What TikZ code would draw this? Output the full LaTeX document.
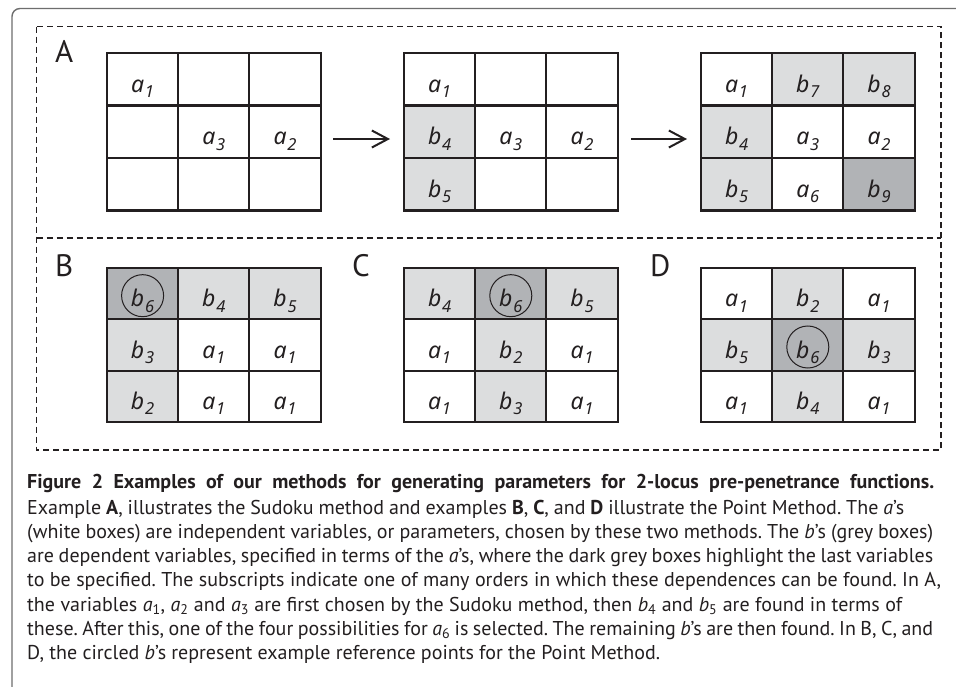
\documentclass[tikz,border=0pt]{standalone}
\usepackage{fontspec}
\setmainfont{PT Sans}
\newfontfamily\cellfont{Noto Sans}
\usetikzlibrary{arrows.meta}
\frenchspacing
\definecolor{lgrey}{HTML}{DCDDDE}
\definecolor{dgrey}{HTML}{B1B3B6}
\definecolor{ink}{HTML}{231F20}
\definecolor{framec}{HTML}{6E6E6E}
\newcommand\cv[2]{{\fontsize{23}{26}\cellfont\itshape #1}\kern0.8pt\raisebox{-5.5pt}{\fontsize{16.5}{16.5}\cellfont\itshape #2}}
\newcommand\sv[2]{\textit{#1}\textsubscript{#2}}
\tikzset{
 cellbox/.style={minimum width=71.2pt, inner sep=0pt, outer sep=0pt, text height=30pt, text depth=4pt, text=ink},
 gridline/.style={draw=ink, line width=2.1pt},
 dashbox/.style={draw=ink, line width=1.5pt, dash pattern=on 6pt off 4pt},
 panellabel/.style={anchor=base west, inner sep=0pt, font=\fontsize{31}{31}\selectfont, text=ink},
 capline/.style={anchor=base west, inner sep=0pt, font=\fontsize{20}{20}\selectfont, text=ink},
 arr/.style={draw=ink, line width=2pt, -{Straight Barb[length=16pt,width=17pt]}},
 ringc/.style={draw=ink, line width=1pt},
}
\newcommand\sgrid[5]{%
 \foreach \rr/\cc/\ff/\tx in {#5}{%
  \node[cellbox, minimum height=#4pt, fill=\ff] (#1-\rr-\cc) at ({#2+(\cc-0.5)*71.2},{#3+(\rr-0.5)*#4}) {\tx};
 }
 \draw[gridline] (#1-1-1.north west) rectangle (#1-3-3.south east);
 \draw[gridline] (#1-1-2.north west) -- (#1-3-2.south west);
 \draw[gridline] (#1-1-3.north west) -- (#1-3-3.south west);
 \draw[gridline] (#1-2-1.north west) -- (#1-2-3.north east);
 \draw[gridline] (#1-3-1.north west) -- (#1-3-3.north east);
}
\begin{document}
\begin{tikzpicture}[x=1pt,y=-1pt]
\clip (0,0) rectangle (956,686);
\fill[white] (0,0) rectangle (956,686);
% outer frame
\draw[framec, line width=1.4pt, rounded corners=8pt] (12,700) -- (12,8.5) -- (970,8.5);
% dashed panels
\draw[dashbox] (36.5,26.5) rectangle (941,450);
\draw[dashbox] (36.5,238) -- (941,238);
% labels
\node[panellabel] (labA) at (55,62) {A};
\node[panellabel] (labB) at (55,276) {B};
\node[panellabel] (labC) at (352,276) {C};
\node[panellabel] (labD) at (650,276) {D};
% grids A
\sgrid{gA}{107}{53}{52.5}{1/1/white/\cv{a}{1}, 1/2/white/{}, 1/3/white/{}, 2/1/white/{}, 2/2/white/\cv{a}{3}, 2/3/white/\cv{a}{2}, 3/1/white/{}, 3/2/white/{}, 3/3/white/{}}
\sgrid{gAA}{404}{53}{52.5}{1/1/white/\cv{a}{1}, 1/2/white/{}, 1/3/white/{}, 2/1/lgrey/\cv{b}{4}, 2/2/white/\cv{a}{3}, 2/3/white/\cv{a}{2}, 3/1/lgrey/\cv{b}{5}, 3/2/white/{}, 3/3/white/{}}
\sgrid{gAAA}{701}{53}{52.5}{1/1/white/\cv{a}{1}, 1/2/lgrey/\cv{b}{7}, 1/3/lgrey/\cv{b}{8}, 2/1/lgrey/\cv{b}{4}, 2/2/white/\cv{a}{3}, 2/3/white/\cv{a}{2}, 3/1/lgrey/\cv{b}{5}, 3/2/white/\cv{a}{6}, 3/3/dgrey/\cv{b}{9}}
% arrows
\coordinate (ar1s) at (333,139);
\coordinate (ar1e) at (390,139);
\coordinate (ar2s) at (631,139);
\coordinate (ar2e) at (687,139);
\draw[arr] (ar1s) -- (ar1e);
\draw[arr] (ar2s) -- (ar2e);
% grids B C D
\sgrid{gB}{107}{268}{51.33}{1/1/dgrey/\cv{b}{6}, 1/2/lgrey/\cv{b}{4}, 1/3/lgrey/\cv{b}{5}, 2/1/lgrey/\cv{b}{3}, 2/2/white/\cv{a}{1}, 2/3/white/\cv{a}{1}, 3/1/lgrey/\cv{b}{2}, 3/2/white/\cv{a}{1}, 3/3/white/\cv{a}{1}}
\sgrid{gC}{404}{268}{51.33}{1/1/lgrey/\cv{b}{4}, 1/2/dgrey/\cv{b}{6}, 1/3/lgrey/\cv{b}{5}, 2/1/white/\cv{a}{1}, 2/2/lgrey/\cv{b}{2}, 2/3/white/\cv{a}{1}, 3/1/white/\cv{a}{1}, 3/2/lgrey/\cv{b}{3}, 3/3/white/\cv{a}{1}}
\sgrid{gD}{701}{268}{51.33}{1/1/white/\cv{a}{1}, 1/2/lgrey/\cv{b}{2}, 1/3/white/\cv{a}{1}, 2/1/lgrey/\cv{b}{5}, 2/2/dgrey/\cv{b}{6}, 2/3/lgrey/\cv{b}{3}, 3/1/white/\cv{a}{1}, 3/2/lgrey/\cv{b}{4}, 3/3/white/\cv{a}{1}}
% rings
\draw[ringc] ([yshift=-2pt]gB-1-1.center) circle[radius=21pt];
\draw[ringc] ([yshift=-2pt]gC-1-2.center) circle[radius=21pt];
\draw[ringc] ([yshift=-2pt]gD-2-2.center) circle[radius=21pt];
% caption
\node[capline] (cap1) at (27,488) {\bfseries\makebox[907pt][s]{Figure 2 Examples of our methods for generating parameters for 2-locus pre-penetrance functions.}};
\node[capline] (cap2) at (27,514) {\makebox[877pt][s]{Example \textbf{A}, illustrates the Sudoku method and examples \textbf{B}, \textbf{C}, and \textbf{D} illustrate the Point Method. The \textit{a}’s}};
\node[capline] (cap3) at (27,538.3) {\makebox[906pt][s]{(white boxes) are independent variables, or parameters, chosen by these two methods. The \textit{b}’s (grey boxes)}};
\node[capline] (cap4) at (27,562.6) {\makebox[906pt][s]{are dependent variables, specified in terms of the \textit{a}’s, where the dark grey boxes highlight the last variables}};
\node[capline] (cap5) at (27,586.9) {\makebox[914pt][s]{to be specified. The subscripts indicate one of many orders in which these dependences can be found. In A,}};
\node[capline] (cap6) at (27,611.2) {\makebox[875pt][s]{the variables \sv{a}{1}, \sv{a}{2} and \sv{a}{3} are first chosen by the Sudoku method, then \sv{b}{4} and \sv{b}{5} are found in terms of}};
\node[capline] (cap7) at (27,635.5) {\makebox[906pt][s]{these. After this, one of the four possibilities for \sv{a}{6} is selected. The remaining \textit{b}’s are then found. In B, C, and}};
\node[capline] (cap8) at (27,659.8) {\makebox[633pt][s]{D, the circled \textit{b}’s represent example reference points for the Point Method.}};
\end{tikzpicture}
\end{document}
